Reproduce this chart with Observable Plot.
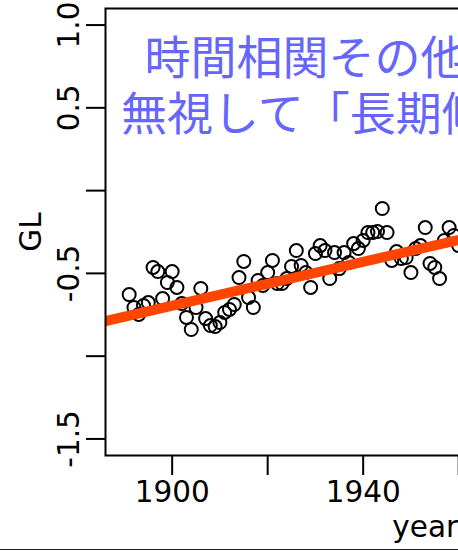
<!DOCTYPE html>
<html><head><meta charset="utf-8">
<script src="https://cdn.jsdelivr.net/npm/d3@7"></script>
<script src="https://cdn.jsdelivr.net/npm/@observablehq/plot@0.6"></script>
<style>
html,body{margin:0;padding:0;background:#fff;overflow:hidden;}
#wrap{width:458px;height:549px;overflow:hidden;border-bottom:1px solid #222;}
#wrap svg{display:block;max-width:none !important;width:760px !important;height:549px !important;}
</style></head><body><div id="wrap"></div>
<script>
const years = [1891,1892,1893,1894,1895,1896,1897,1898,1899,1900,
  1901,1902,1903,1904,1905,1906,1907,1908,1909,1910,
  1911,1912,1913,1914,1915,1916,1917,1918,1919,1920,
  1921,1922,1923,1924,1925,1926,1927,1928,1929,1930,
  1931,1932,1933,1934,1935,1936,1937,1938,1939,1940,
  1941,1942,1943,1944,1945,1946,1947,1948,1949,1950,
  1951,1952,1953,1954,1955,1956,1957,1958,1959,1960];
const glValues = [-0.628,-0.706,-0.748,-0.694,-0.676,-0.464,-0.489,-0.652,-0.555,-0.489,
  -0.585,-0.682,-0.766,-0.839,-0.706,-0.591,-0.773,-0.815,-0.821,-0.797,
  -0.736,-0.718,-0.688,-0.525,-0.428,-0.646,-0.706,-0.543,-0.573,-0.495,
  -0.422,-0.561,-0.561,-0.531,-0.458,-0.362,-0.452,-0.495,-0.585,-0.380,
  -0.332,-0.362,-0.531,-0.374,-0.471,-0.374,-0.434,-0.320,-0.350,-0.301,
  -0.253,-0.253,-0.247,-0.108,-0.253,-0.422,-0.368,-0.410,-0.404,-0.495,
  -0.350,-0.332,-0.223,-0.440,-0.464,-0.531,-0.301,-0.223,-0.271,-0.332];
const trendYears = [1886.04, 2019.96];
const trendValues = [-0.788, 0.100];
const yTicks = [1.0, 0.5, 0, -0.5, -1.0, -1.5];
const yTickLabels = [1.0, 0.5, -0.5, -1.5];
const xTicks = [1900, 1920, 1940, 1960, 1980, 2000];
const xTickLabels = [1900, 1940, 1980];
const titleLines = ["時間相関その他を", "無視して「長期傾向」"];
const titleX = [1894.2, 1889.3];
const titleY = [0.705, 0.364];

const pts = years.map((yr, i) => ({year: yr, gl: glValues[i]}));
const trend = trendYears.map((yr, i) => ({year: yr, gl: trendValues[i]}));
const titles = titleLines.map((t, i) => ({t, x: titleX[i], y: titleY[i]}));

const fs = 29.5;
const chart = Plot.plot({
  width: 760, height: 549,
  marginLeft: 105, marginRight: 15.5, marginTop: 8, marginBottom: 94,
  x: {domain: [1886.04, 2019.96]},
  y: {domain: [-1.6, 1.1]},
  style: {fontFamily: "DejaVu Sans", background: "white", color: "black"},
  marks: [
    Plot.dot(pts, {x: "year", y: "gl", r: 6.5, stroke: "black", strokeWidth: 2, fill: "none"}),
    Plot.line(trend, {x: "year", y: "gl", stroke: "#ff4500", strokeWidth: 10, clip: "frame"}),
    Plot.frame({stroke: "black", strokeWidth: 2}),
    Plot.axisY({ticks: yTicks, tickSize: 19, strokeWidth: 2, tickFormat: () => "", label: null}),
    Plot.text(yTickLabels, {y: d => d, frameAnchor: "left", text: d => d.toFixed(1), rotate: -90, dx: -27,
      lineAnchor: "bottom", textAnchor: "middle", fontSize: fs, fill: "black"}),
    Plot.axisX({ticks: xTicks, tickSize: 20, strokeWidth: 2, tickFormat: () => "", label: null}),
    Plot.text(xTickLabels, {x: d => d, frameAnchor: "bottom", text: d => String(d), dy: 46,
      lineAnchor: "bottom", fontSize: fs, fill: "black"}),
    Plot.text(["GL"], {frameAnchor: "left", text: d => d, rotate: -90, dx: -65, lineAnchor: "bottom",
      textAnchor: "middle", fontSize: fs, fill: "black"}),
    Plot.text(["year"], {frameAnchor: "bottom", text: d => d, dy: 81, lineAnchor: "bottom",
      fontSize: fs, fill: "black"}),
    Plot.text(titles, {x: "x", y: "y", text: "t", textAnchor: "start", lineAnchor: "bottom",
      fontSize: 46, fill: "#6666ff", fontFamily: "Noto Sans CJK JP"})
  ]
});
document.getElementById("wrap").appendChild(chart);
</script></body></html>
